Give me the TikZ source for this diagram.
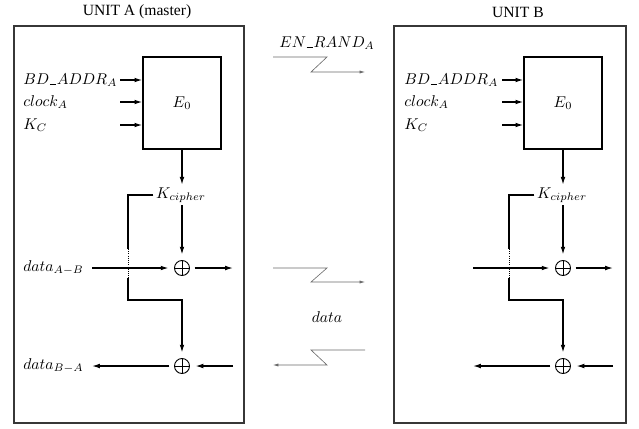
\documentclass[tikz,border=0pt]{standalone}
\usepackage{fontspec}
\newfontfamily\titlefont{Liberation Serif}
\usepackage{amsmath}
\usetikzlibrary{arrows.meta,positioning,fit}
\definecolor{cFrame}{RGB}{55,55,55}
\definecolor{cRadio}{RGB}{105,105,105}
\newcommand\uln{\mbox{\kern0.4pt\rule{4pt}{0.4pt}\kern0.4pt}}

\begin{document}
\begin{tikzpicture}[x=0.64pt,y=-0.64pt,
   frame/.style={draw=cFrame,line width=1.1pt,inner sep=0pt},
   ttl/.style={font=\titlefont},
   eblk/.style={draw,line width=0.8pt,minimum width=50pt,minimum height=59pt},
   lbl/.style={anchor=west,inner sep=0pt},
   wire/.style={line width=0.8pt},
   a/.style={wire,-{Latex[length=5pt,width=3pt]}},
   xor/.style={circle,draw,semithick,minimum size=9.6pt,inner sep=0pt,
     path picture={\draw[semithick] (path picture bounding box.north) -- (path picture bounding box.south)
       (path picture bounding box.west) -- (path picture bounding box.east);}},
   radio/.style={cRadio,thin,-{Latex[length=3.5pt,width=2pt]}}]
  \useasboundingbox (0,0) rectangle (639,428);

  % unit A
  \node[frame,fit={(14,26) (244,423)}] (ua) {};
  \node[ttl] (tA) at (137,12) {UNIT A (master)};
  \node[eblk] (eA) at (182,103) {$E_0$};
  \node[lbl] (bdA) at (23,80)  {$BD\uln ADDR_A$};
  \node[lbl] (ckA) at (23,102) {$clock_A$};
  \node[lbl] (kcA) at (23,125) {$K_C$};
  \coordinate (iA1) at (120,80); \coordinate (iA2) at (120,102); \coordinate (iA3) at (120,125);
  \draw[a] (iA1) -- (iA1 -| eA.west); \draw[a] (iA2) -- (iA2 -| eA.west); \draw[a] (iA3) -- (iA3 -| eA.west);
  \node[inner sep=1.5pt] (kA) at (181,195) {$K_{cipher}$};
  \draw[a] (eA.south) -- (eA.south |- kA.north);
  \node[xor] (xA1) at (182,268) {};
  \node[xor] (xA2) at (182,366) {};
  \draw[a,shorten >=3.5pt] (kA.south -| xA1) -- (xA1.north);
  \coordinate (cA1) at (128,249); \coordinate (cA2) at (128,278); \coordinate (cA3) at (128,300);
  \draw[wire] (kA.west) -| (cA1);
  \draw[thin,densely dotted] (cA1) -- (cA2);
  \draw[a,shorten >=3.5pt] (cA2) -- (cA3) -| (xA2.north);
  \node[lbl] (dAB) at (23,268) {$data_{A-B}$};
  \node[lbl] (dBA) at (23,366) {$data_{B-A}$};
  \coordinate (dA1) at (92,268);  \coordinate (oA1) at (233,268);
  \coordinate (dA2) at (92,366);  \coordinate (oA2) at (233,366);
  \draw[a,shorten >=3.5pt] (dA1) -- (xA1.west);
  \draw[a,shorten <=3pt] (xA1.east) -- (oA1);
  \draw[a,shorten >=3.5pt] (oA2) -- (xA2.east);
  \draw[a,shorten <=3pt] (xA2.west) -- (dA2);

  % air link
  \node (enr) at (327,43) {$EN\uln RAND_A$};
  \coordinate (r1) at (273,57); \coordinate (r2) at (327,57); \coordinate (r3) at (311,72); \coordinate (r4) at (365,72);
  \draw[radio] (r1) -- (r2) -- (r3) -- (r4);
  \coordinate (s1) at (273,268); \coordinate (s2) at (327,268); \coordinate (s3) at (311,282); \coordinate (s4) at (365,282);
  \draw[radio] (s1) -- (s2) -- (s3) -- (s4);
  \node (dt) at (327,317) {$data$};
  \coordinate (t1) at (365,350); \coordinate (t2) at (311,350); \coordinate (t3) at (327,365); \coordinate (t4) at (273,365);
  \draw[radio] (t1) -- (t2) -- (t3) -- (t4);

  % unit B
  \begin{scope}[shift={(381,0)}]
  \node[frame,fit={(13,26) (245,423)}] (ub) {};
  \node[ttl] (tB) at (137,12) {UNIT B};
  \node[eblk] (eB) at (182,103) {$E_0$};
  \node[lbl] (bdB) at (23,80)  {$BD\uln ADDR_A$};
  \node[lbl] (ckB) at (23,102) {$clock_A$};
  \node[lbl] (kcB) at (23,125) {$K_C$};
  \coordinate (iB1) at (121,80); \coordinate (iB2) at (121,102); \coordinate (iB3) at (121,125);
  \draw[a] (iB1) -- (iB1 -| eB.west); \draw[a] (iB2) -- (iB2 -| eB.west); \draw[a] (iB3) -- (iB3 -| eB.west);
  \node[inner sep=1.5pt] (kB) at (181,195) {$K_{cipher}$};
  \draw[a] (eB.south) -- (eB.south |- kB.north);
  \node[xor] (xB1) at (182,268) {};
  \node[xor] (xB2) at (182,366) {};
  \draw[a,shorten >=3.5pt] (kB.south -| xB1) -- (xB1.north);
  \coordinate (cB1) at (128,249); \coordinate (cB2) at (128,278); \coordinate (cB3) at (128,300);
  \draw[wire] (kB.west) -| (cB1);
  \draw[thin,densely dotted] (cB1) -- (cB2);
  \draw[a,shorten >=3.5pt] (cB2) -- (cB3) -| (xB2.north);
  \coordinate (dB1) at (92,268);  \coordinate (oB1) at (232,268);
  \coordinate (dB2) at (92,366);  \coordinate (oB2) at (232,366);
  \draw[a,shorten >=3.5pt] (dB1) -- (xB1.west);
  \draw[a,shorten <=3pt] (xB1.east) -- (oB1);
  \draw[a,shorten >=3.5pt] (oB2) -- (xB2.east);
  \draw[a,shorten <=3pt] (xB2.west) -- (dB2);
  \end{scope}
\end{tikzpicture}
\end{document}
